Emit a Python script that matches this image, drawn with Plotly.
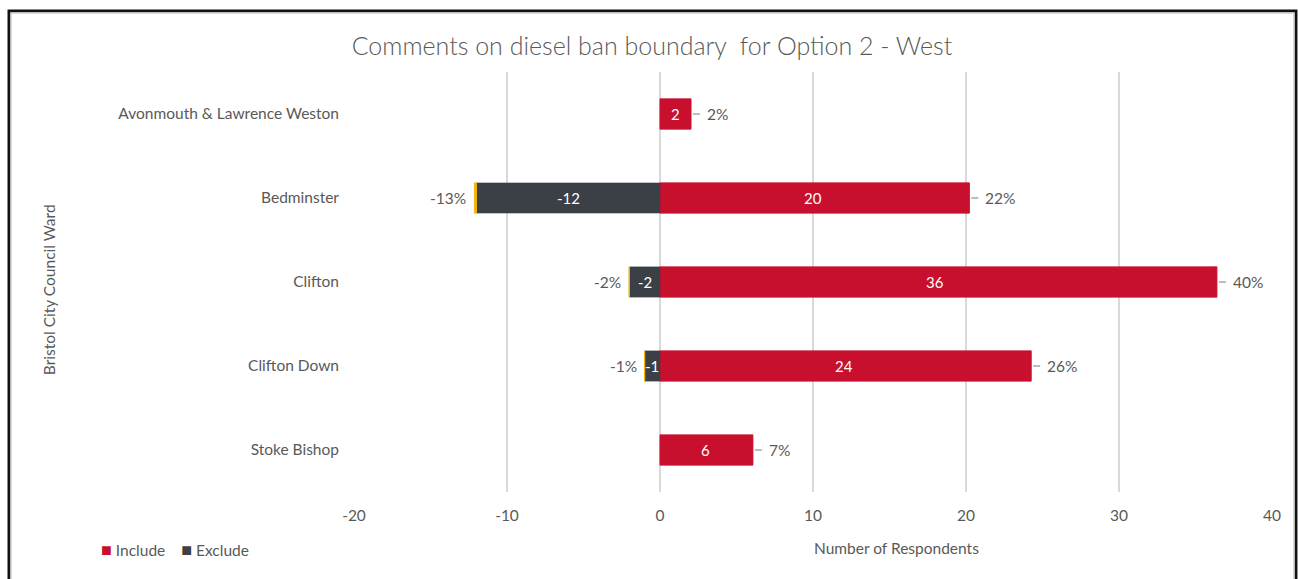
import plotly.graph_objects as go

# Ward-level responses on the Option 2 - West boundary
wards = ["Avonmouth & Lawrence Weston", "Bedminster", "Clifton", "Clifton Down", "Stoke Bishop"]
include = [2, 20, 36, 24, 6]
exclude = [0, -12, -2, -1, 0]
include_pct = [2, 22, 40, 26, 7]
exclude_pct = [0, -13, -2, -1, 0]
x_ticks = [-20, -10, 0, 10, 20, 30, 40]
x_tick_text = ["-20", "-10", "0", "10", "20", "30", "40"]

RED = "#C8102E"
DARK = "#3B3F46"
AMBER = "#F2B705"
GREY_TXT = "#595959"
FONT = "Lato"
LBL = dict(family=FONT, size=15.5, color=GREY_TXT)


def nz(values, scale=1.0):
    """Zero entries become gaps so they don't draw hairline bars."""
    return [v * scale if v != 0 else None for v in values]


fig = go.Figure()

fig.add_trace(go.Bar(y=wards, x=include, orientation="h", name="Include", showlegend=False,
                     marker=dict(color=RED, line=dict(color=RED, width=1))))
fig.add_trace(go.Bar(y=wards, x=nz(exclude), orientation="h", name="Exclude", showlegend=False,
                     marker=dict(color=DARK, line=dict(color=DARK, width=0.5))))
# percentage series stacked on the ends of the bars (value / 100)
fig.add_trace(go.Bar(y=wards, x=nz(include_pct, 0.01), orientation="h",
                     showlegend=False, hoverinfo="skip",
                     marker=dict(color=RED, line=dict(color=RED, width=1))))
fig.add_trace(go.Bar(y=wards, x=nz(exclude_pct, 0.01), orientation="h",
                     showlegend=False, hoverinfo="skip",
                     marker=dict(color=AMBER, line=dict(color=AMBER, width=1))))

annotations = []
shapes = []
in_bar = dict(family=FONT, size=15, color="white")
for i, w in enumerate(wards):
    # value labels in the middle of each segment
    annotations.append(dict(x=include[i] / 2, y=w, xref="x", yref="y", text=str(include[i]),
                            showarrow=False, font=in_bar))
    if exclude[i] != 0:
        annotations.append(dict(x=exclude[i] / 2, y=w, xref="x", yref="y", text=str(exclude[i]),
                                showarrow=False, font=in_bar))
    # positive percentage with a short leader line
    end_pos = include[i] + include_pct[i] / 100
    shapes.append(dict(type="line", xref="x", yref="y", xsizemode="pixel", xanchor=end_pos,
                       x0=2, x1=9, y0=i, y1=i, line=dict(color="#A6A6A6", width=1.5)))
    annotations.append(dict(x=end_pos, y=w, xref="x", yref="y", text=f"{include_pct[i]}%",
                            xanchor="left", xshift=14, showarrow=False, font=LBL))
    if exclude_pct[i] != 0:
        end_neg = exclude[i] + exclude_pct[i] / 100
        annotations.append(dict(x=end_neg, y=w, xref="x", yref="y", text=f"{exclude_pct[i]}%",
                                xanchor="right", xshift=-6, showarrow=False, font=LBL))

annotations += [
    dict(text="Bristol City Council Ward", xref="paper", yref="paper", x=-0.332, y=0.481,
         xanchor="center", yanchor="middle", textangle=-90, showarrow=False, font=LBL),
    dict(text="Number of Respondents", xref="paper", yref="paper", x=0.5915, y=-0.1333,
         xanchor="center", yanchor="middle", showarrow=False, font=LBL),
    # legend keys
    dict(text=f'<span style="color:{RED};font-size:18px">■</span> Include    '
              f'<span style="color:{DARK};font-size:18px">■</span> Exclude',
         xref="paper", yref="paper", x=(99 - 354) / 918, y=(492 - 549) / 420,
         xanchor="left", yanchor="middle", showarrow=False, font=LBL),
]

# chart frame
shapes += [
    dict(type="rect", xref="paper", yref="paper", x0=-0.3758, x1=1.0261, y0=-0.4, y1=1.1452,
         line=dict(color="#111111", width=3), layer="above"),
    dict(type="rect", xref="paper", yref="paper", x0=-0.3736, x1=1.0239, y0=-0.4, y1=1.1405,
         line=dict(color="#D0D0D0", width=1.5), layer="above"),
]

fig.update_layout(
    width=1298, height=579,
    margin=dict(l=354, r=26, t=72, b=87),
    paper_bgcolor="white", plot_bgcolor="white",
    barmode="relative", bargap=0.64,
    showlegend=False,
    title=dict(text="Comments on diesel ban boundary  for Option 2 - West",
               x=0.5023, xref="container", xanchor="center",
               y=1 - 46 / 579, yref="container", yanchor="middle",
               font=dict(family=FONT, size=25, color=GREY_TXT, weight=300)),
    font=LBL,
    xaxis=dict(range=[-20, 40], tickvals=x_ticks, ticktext=x_tick_text,
               showgrid=True, gridcolor="#D9D9D9",
               gridwidth=1.5, zeroline=True, zerolinecolor="#D9D9D9", zerolinewidth=1.5,
               showline=False, ticks="", ticklabelstandoff=12, tickfont=LBL),
    yaxis=dict(categoryorder="array", categoryarray=wards, autorange="reversed",
               showgrid=False, showline=False, ticks="", ticklabelstandoff=14,
               tickfont=LBL),
    annotations=annotations,
    shapes=shapes,
)

fig.write_html("out.html")
